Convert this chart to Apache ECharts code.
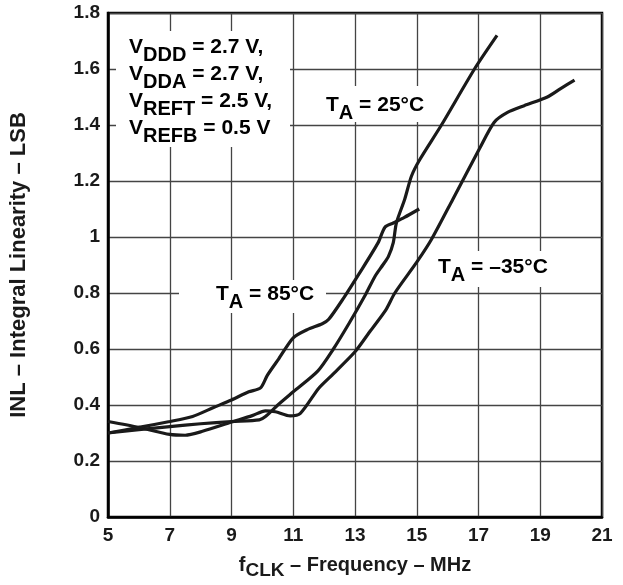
<!DOCTYPE html>
<html>
<head>
<meta charset="utf-8">
<script src="https://cdn.jsdelivr.net/npm/echarts@6/dist/echarts.min.js"></script>
<style>
html,body{margin:0;padding:0;background:#fff;}
#chart{width:623px;height:585px;}
</style>
</head>
<body>
<div id="chart"></div>
<script>
// ---- data ----
const xTicks = [5, 7, 9, 11, 13, 15, 17, 19, 21];
const yTickLabels = ['0', '0.2', '0.4', '0.6', '0.8', '1', '1.2', '1.4', '1.6', '1.8'];

const freq25 = [5, 6, 7, 8, 9, 9.9, 10.1, 10.5, 11, 11.8, 12.3, 12.8, 13.32, 13.65, 13.9, 14.08, 14.24, 14.34, 14.61, 14.83, 15.1, 15.8, 16.87, 17.6];
const inl25  = [0.30, 0.312, 0.323, 0.333, 0.341, 0.347, 0.359, 0.40, 0.447, 0.522, 0.60, 0.69, 0.79, 0.86, 0.90, 0.93, 0.98, 1.05, 1.135, 1.218, 1.277, 1.40, 1.60, 1.72];

const freqM35 = [5, 6, 7, 7.5, 8.06, 9, 9.67, 10.1, 10.42, 10.9, 11.23, 11.82, 12.25, 13, 13.5, 14.0, 14.29, 15.0, 15.47, 16.17, 17.03, 17.51, 17.94, 18.48, 19.23, 19.66, 20.11];
const inlM35  = [0.341, 0.32, 0.295, 0.292, 0.306, 0.339, 0.362, 0.379, 0.376, 0.361, 0.37, 0.459, 0.506, 0.59, 0.665, 0.74, 0.80, 0.91, 0.99, 1.135, 1.315, 1.41, 1.445, 1.469, 1.50, 1.53, 1.56];

const freq85 = [5, 6, 7, 7.74, 8.4, 9, 9.56, 9.94, 10.16, 10.53, 11, 11.47, 11.94, 12.15, 12.62, 13.14, 13.75, 13.97, 14.24, 14.6, 15.08];
const inl85  = [0.30, 0.32, 0.341, 0.359, 0.39, 0.418, 0.447, 0.461, 0.506, 0.565, 0.64, 0.67, 0.69, 0.706, 0.78, 0.87, 0.98, 1.035, 1.05, 1.07, 1.10];

const pair = (xs, ys) => xs.map((x, i) => [x, ys[i]]);

const FONT = '"Liberation Sans", Arial, Helvetica, sans-serif';
const ink = '#1a1a1a';

const mainSt = (fs, lh) => ({fontSize: fs, fontWeight: 'bold', fontFamily: FONT, color: ink, lineHeight: lh, verticalAlign: 'top'});
const subSt = (fs, lh, dy) => ({fontSize: fs, fontWeight: 'bold', fontFamily: FONT, color: ink, lineHeight: lh, verticalAlign: 'top', padding: [dy, 0, 0, 0]});

const annoRich = {m: mainSt(21, 27), s: subSt(20, 27, 8)};

const chart = echarts.init(document.getElementById('chart'));
const lineSeries = (name, xs, ys) => ({
  name: name, type: 'line', data: pair(xs, ys), showSymbol: false, symbol: 'none',
  smooth: 0.25,
  lineStyle: {color: ink, width: 3.2}, z: 5, silent: true
});

chart.setOption({
  animation: false,
  backgroundColor: '#fff',
  grid: {left: 105, right: 21, top: 13, bottom: 65, show: true, borderColor: '#000', borderWidth: 2.5, backgroundColor: 'transparent'},
  xAxis: {
    type: 'value', min: 5, max: 21, interval: 2,
    axisLine: {show: true, lineStyle: {color: '#000', width: 2.5}},
    axisTick: {show: false},
    splitLine: {show: true, lineStyle: {color: '#444', width: 1.3}},
    axisLabel: {fontSize: 19, fontWeight: 'bold', fontFamily: FONT, color: ink, margin: 9,
      formatter: v => String(xTicks[Math.round((v - 5) / 2)])},
    name: '{m|f}{s|CLK}{m| – Frequency – MHz}',
    nameLocation: 'middle', nameGap: 38,
    nameTextStyle: {rich: {m: mainSt(20, 24), s: subSt(19, 24, 6)}}
  },
  yAxis: {
    type: 'value', min: 0, max: 1.8, interval: 0.2,
    axisLine: {show: true, lineStyle: {color: '#000', width: 2.5}},
    axisTick: {show: false},
    splitLine: {show: true, lineStyle: {color: '#444', width: 1.3}},
    axisLabel: {fontSize: 19, fontWeight: 'bold', fontFamily: FONT, color: ink, margin: 8,
      formatter: v => yTickLabels[Math.round(v / 0.2)]},
    name: 'INL – Integral Linearity – LSB',
    nameLocation: 'middle', nameGap: 78, nameRotate: 90,
    nameTextStyle: {fontSize: 22, fontWeight: 'bold', fontFamily: FONT, color: ink}
  },
  graphic: [
    {type: 'rect', left: 116, top: 31, shape: {width: 174, height: 116}, style: {fill: '#fff'}, z: 3},
    {type: 'text', left: 129, top: 37, z: 4, style: {
      text: '{m|V}{s|DDD}{m| = 2.7 V,}\n{m|V}{s|DDA}{m| = 2.7 V,}\n{m|V}{s|REFT}{m| = 2.5 V,}\n{m|V}{s|REFB}{m| = 0.5 V}',
      rich: annoRich}},
    {type: 'rect', left: 322, top: 86, shape: {width: 106, height: 36}, style: {fill: '#fff'}, z: 3},
    {type: 'text', left: 326, top: 95, z: 4, style: {text: '{m|T}{s|A}{m| = 25°C}', rich: annoRich}},
    {type: 'rect', left: 179, top: 280, shape: {width: 147, height: 33}, style: {fill: '#fff'}, z: 3},
    {type: 'text', left: 216, top: 284, z: 4, style: {text: '{m|T}{s|A}{m| = 85°C}', rich: annoRich}},
    {type: 'rect', left: 434, top: 251, shape: {width: 120, height: 36}, style: {fill: '#fff'}, z: 3},
    {type: 'text', left: 438, top: 257, z: 4, style: {text: '{m|T}{s|A}{m| = –35°C}', rich: annoRich}}
  ],
  series: [
    lineSeries('25°C', freq25, inl25),
    lineSeries('-35°C', freqM35, inlM35),
    lineSeries('85°C', freq85, inl85)
  ]
});
</script>
</body>
</html>
